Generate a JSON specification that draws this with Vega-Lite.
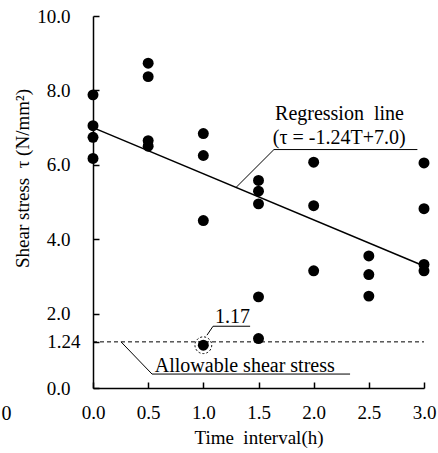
{
  "$schema": "https://vega.github.io/schema/vega-lite/v6.json",
  "width": 331,
  "height": 372,
  "autosize": "none",
  "padding": {"left": 93, "top": 16, "right": 14, "bottom": 65},
  "background": "white",
  "config": {
    "view": {"stroke": null},
    "font": "Liberation Serif",
    "axis": {"grid": false, "labelFlush": false, "labelOverlap": false, "domainColor": "black", "tickColor": "black", "labelColor": "black", "titleColor": "black", "labelFont": "Liberation Serif", "titleFont": "Liberation Serif", "labelFontSize": 19, "titleFontSize": 19, "titleFontWeight": "normal", "domainWidth": 1.5, "tickWidth": 1.5, "tickSize": -6}
  },
  "datasets": {
    "pts": [
      {"t": 0, "s": 7.88}, {"t": 0, "s": 7.05}, {"t": 0, "s": 6.74}, {"t": 0, "s": 6.17},
      {"t": 0.5, "s": 8.73}, {"t": 0.5, "s": 8.37}, {"t": 0.5, "s": 6.65}, {"t": 0.5, "s": 6.5},
      {"t": 1.0, "s": 6.84}, {"t": 1.0, "s": 6.25}, {"t": 1.0, "s": 4.5}, {"t": 1.0, "s": 1.15},
      {"t": 1.5, "s": 5.58}, {"t": 1.5, "s": 5.29}, {"t": 1.5, "s": 4.95}, {"t": 1.5, "s": 2.45}, {"t": 1.5, "s": 1.33},
      {"t": 2.0, "s": 6.07}, {"t": 2.0, "s": 4.9}, {"t": 2.0, "s": 3.15},
      {"t": 2.5, "s": 3.55}, {"t": 2.5, "s": 3.05}, {"t": 2.5, "s": 2.47},
      {"t": 3.0, "s": 6.05}, {"t": 3.0, "s": 4.82}, {"t": 3.0, "s": 3.32}, {"t": 3.0, "s": 3.15}
    ],
    "reg": [{"t": 0, "s": 7.0}, {"t": 3.0, "s": 3.28}],
    "leaders": [
      {"g": "reg", "o": 1, "t": 1.296, "s": 5.39},
      {"g": "reg", "o": 2, "t": 1.64, "s": 6.41},
      {"g": "reg", "o": 3, "t": 2.94, "s": 6.41},
      {"g": "min", "o": 1, "t": 1.033, "s": 1.42},
      {"g": "min", "o": 2, "t": 1.088, "s": 1.66},
      {"g": "min", "o": 3, "t": 1.424, "s": 1.66},
      {"g": "allow", "o": 1, "t": 0.254, "s": 1.24},
      {"g": "allow", "o": 2, "t": 0.535, "s": 0.375},
      {"g": "allow", "o": 3, "t": 2.33, "s": 0.375}
    ],
    "labels": [
      {"t": 1.65, "s": 7.37, "label": "Regression\u00a0\u00a0line"},
      {"t": 1.63, "s": 6.73, "label": "(τ = -1.24T+7.0)"},
      {"t": 1.106, "s": 1.92, "label": "1.17"},
      {"t": 0.56, "s": 0.58, "label": "Allowable shear stress"},
      {"t": -0.83, "s": -0.7, "label": "0"}
    ]
  },
  "layer": [
    {
      "data": {"name": "pts"},
      "mark": {"type": "point", "filled": true, "shape": "circle", "size": 120, "color": "black", "opacity": 1},
      "encoding": {
        "x": {"field": "t", "type": "quantitative", "scale": {"domain": [0, 3]},
          "axis": {"values": [0, 0.5, 1, 1.5, 2, 2.5, 3], "format": ".1f", "title": "Time\u00a0\u00a0interval(h)", "labelPadding": 21, "titlePadding": 6}},
        "y": {"field": "s", "type": "quantitative", "scale": {"domain": [0, 10]},
          "axis": {"values": [0, 1.24, 2, 4, 6, 8, 10], "labelExpr": "datum.value == 1.24 ? '1.24' : format(datum.value, '.1f')", "labelAlign": "right", "labelPadding": {"condition": {"test": "datum.value == 1.24", "value": 19}, "value": 29}, "title": "Shear stress\u00a0\u00a0τ (N/mm²)", "titleX": -71, "titleY": 162, "titleAlign": "center", "titleBaseline": "middle", "titleAngle": -90}}
      }
    },
    {
      "data": {"name": "reg"},
      "mark": {"type": "line", "color": "black", "strokeWidth": 1.5},
      "encoding": {"x": {"field": "t", "type": "quantitative"}, "y": {"field": "s", "type": "quantitative"}}
    },
    {
      "data": {"values": [{"s": 1.24, "t0": 0, "t1": 3}]},
      "mark": {"type": "rule", "color": "black", "strokeWidth": 1, "strokeDash": [4, 3]},
      "encoding": {"y": {"field": "s", "type": "quantitative"}, "x": {"field": "t0", "type": "quantitative"}, "x2": {"field": "t1"}}
    },
    {
      "data": {"name": "leaders"},
      "mark": {"type": "line", "color": "black", "strokeWidth": 1},
      "encoding": {"x": {"field": "t", "type": "quantitative"}, "y": {"field": "s", "type": "quantitative"}, "detail": {"field": "g"}, "order": {"field": "o"}}
    },
    {
      "data": {"values": [{"t": 1.0, "s": 1.15}]},
      "mark": {"type": "point", "shape": "circle", "filled": false, "size": 280, "color": "black", "strokeWidth": 1, "strokeDash": [2, 2], "opacity": 1},
      "encoding": {"x": {"field": "t", "type": "quantitative"}, "y": {"field": "s", "type": "quantitative"}}
    },
    {
      "data": {"name": "labels"},
      "mark": {"type": "text", "align": "left", "baseline": "middle", "fontSize": 20, "font": "Liberation Serif", "color": "black"},
      "encoding": {"x": {"field": "t", "type": "quantitative"}, "y": {"field": "s", "type": "quantitative"}, "text": {"field": "label"}}
    }
  ]
}
